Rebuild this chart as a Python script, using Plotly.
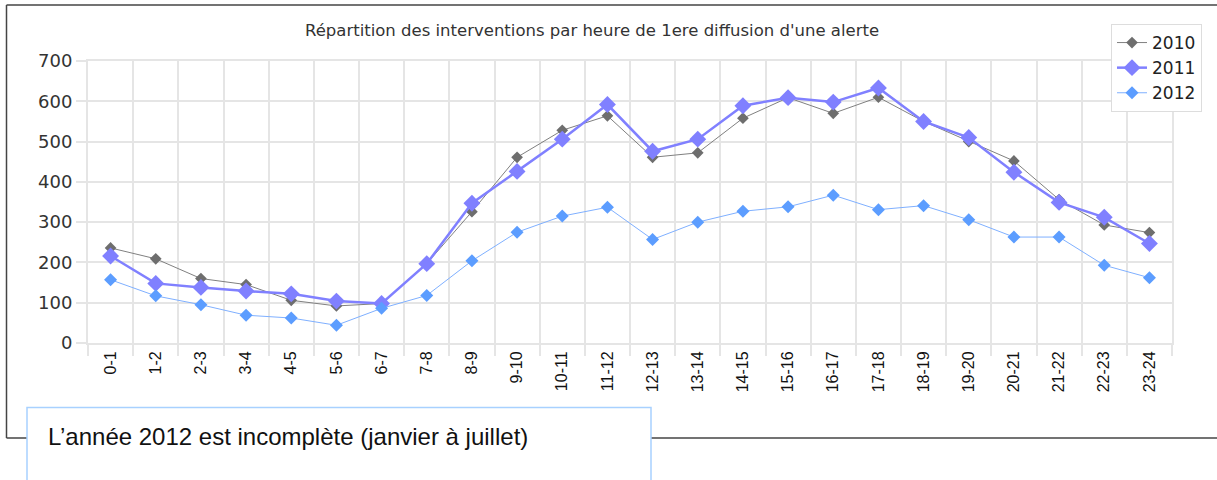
import plotly.graph_objects as go

categories = ["0-1", "1-2", "2-3", "3-4", "4-5", "5-6", "6-7", "7-8", "8-9", "9-10",
              "10-11", "11-12", "12-13", "13-14", "14-15", "15-16", "16-17", "17-18",
              "18-19", "19-20", "20-21", "21-22", "22-23", "23-24"]
y2010 = [236, 209, 160, 145, 106, 92, 98, 197, 326, 461, 528, 564, 461, 472, 558, 609,
         570, 610, 550, 500, 452, 356, 293, 274]
y2011 = [216, 148, 138, 129, 122, 104, 98, 197, 347, 426, 506, 592, 476, 506, 589, 609,
         598, 633, 550, 510, 424, 349, 312, 247]
y2012 = [157, 117, 95, 69, 62, 44, 86, 118, 204, 275, 315, 337, 257, 300, 327, 338,
         367, 331, 341, 306, 263, 263, 193, 162]
y_ticks = [0, 100, 200, 300, 400, 500, 600, 700]
title_text = "Répartition des interventions par heure de 1ere diffusion d'une alerte"
note_text = "L’année 2012 est incomplète (janvier à juillet)"

W, H = 1217, 480
L, R, T, B = 88, 1172, 61, 343

def px(x):
    return (x - L) / (R - L)

def py(y):
    return (B - y) / (B - T)

FONT = "Liberation Sans, Arial, sans-serif"
WIDE = "DejaVu Sans, sans-serif"

fig = go.Figure()
fig.add_trace(go.Scatter(x=categories, y=y2010, name="2010", mode="lines+markers",
                         line=dict(color="#808080", width=1),
                         marker=dict(symbol="diamond", size=9, color="#6e6e6e")))
fig.add_trace(go.Scatter(x=categories, y=y2011, name="2011", mode="lines+markers",
                         line=dict(color="#8080ff", width=2.5),
                         marker=dict(symbol="diamond", size=13, color="#8080ff")))
fig.add_trace(go.Scatter(x=categories, y=y2012, name="2012", mode="lines+markers",
                         line=dict(color="#7fb0ff", width=1),
                         marker=dict(symbol="diamond", size=10, color="#5c9dff")))

grid = "#e5e5e5"
fig.update_layout(
    width=W, height=H,
    margin=dict(l=L, r=W - R, t=T, b=H - B, autoexpand=False),
    paper_bgcolor="white", plot_bgcolor="white",
    font=dict(family=FONT, color="#222"),
    title=dict(text=title_text, x=592 / W, xanchor="center", xref="container",
               y=1 - 30 / H, yanchor="middle", yref="container",
               font=dict(size=16.5, color="#333", family=WIDE)),
    showlegend=True,
    legend=dict(x=px(1111), y=py(24), xanchor="left", yanchor="top",
                bgcolor="white", bordercolor="#dddddd", borderwidth=1,
                font=dict(size=17, color="#222", family=WIDE),
                tracegroupgap=0, itemwidth=30),
    xaxis=dict(type="category", tickson="boundaries", range=[-0.5, 23.5],
               showgrid=True, gridcolor=grid, gridwidth=2,
               ticks="outside", ticklen=11, tickwidth=2, tickcolor=grid,
               tickangle=-90, tickfont=dict(size=16, color="#111", family=FONT),
               showline=True, linecolor=grid, linewidth=2, mirror=True,
               zeroline=False),
    yaxis=dict(range=[0, 700], tickvals=y_ticks,
               showgrid=True, gridcolor=grid, gridwidth=2,
               ticks="outside", ticklen=10, tickwidth=2, tickcolor=grid,
               tickfont=dict(size=18, color="#333", family=WIDE),
               showline=True, linecolor=grid, linewidth=2, mirror=True,
               zeroline=False),
)

border = "#444444"
shapes = [
    dict(type="line", xref="paper", yref="paper", x0=px(6.5), x1=px(W + 5), y0=py(5), y1=py(5),
         line=dict(color=border, width=1.5)),
    dict(type="line", xref="paper", yref="paper", x0=px(6.5), x1=px(6.5), y0=py(5), y1=py(438),
         line=dict(color=border, width=1.5)),
    dict(type="line", xref="paper", yref="paper", x0=px(6.5), x1=px(W + 5), y0=py(438), y1=py(438),
         line=dict(color=border, width=1.5)),
    dict(type="rect", xref="paper", yref="paper", x0=px(27), x1=px(651), y0=py(407.5), y1=py(482),
         fillcolor="white", line=dict(color="#a8d1ff", width=1.5), layer="above"),
]
fig.update_layout(shapes=shapes)
fig.add_annotation(text=note_text, xref="paper", yref="paper", x=px(46), y=py(436),
                   xanchor="left", yanchor="middle", showarrow=False,
                   font=dict(size=24, color="#111", family=FONT))

fig.write_html("out.html", config={"displayModeBar": False},
               post_script="document.body.style.margin='0px';")
